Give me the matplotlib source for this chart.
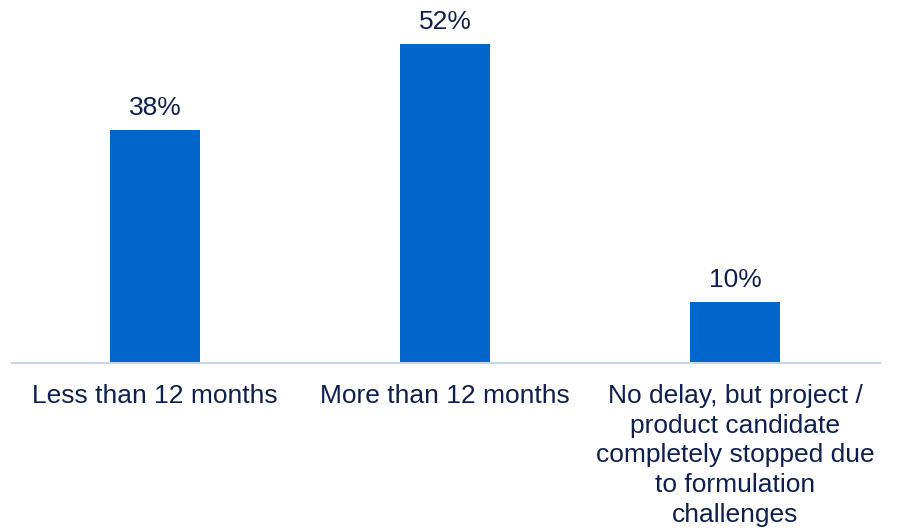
import matplotlib
matplotlib.use("Agg")
import matplotlib.pyplot as plt

categories = [
    "Less than 12 months",
    "More than 12 months",
    "No delay, but project /\nproduct candidate\ncompletely stopped due\nto formulation\nchallenges",
]
shares = [38, 52, 10]
value_labels = ["38%", "52%", "10%"]

bar_color = "#0066CC"
text_color = "#0F1F4F"
axis_color = "#C5D5F0"

plt.rcParams["font.family"] = ["Liberation Sans", "DejaVu Sans"]

W, H = 897, 532
fig = plt.figure(figsize=(W / 100, H / 100), dpi=100)
# axes box in pixel terms: baseline at y=363 from top, top at y=10
left, right, top, base = 12, 880, 10, 363
ax = fig.add_axes([left / W, (H - base) / H, (right - left) / W, (base - top) / H])

x = range(len(categories))
bars = ax.bar(x, shares, width=0.31, color=bar_color, zorder=2)

ax.set_xlim(-0.4927, 2.498)
ax.set_ylim(0, 57.5)

for rect, lab in zip(bars, value_labels):
    ax.annotate(lab, (rect.get_x() + rect.get_width() / 2, rect.get_height()),
                xytext=(0, 7), textcoords="offset points",
                ha="center", va="bottom", fontsize=19, color=text_color)

for side in ["top", "right", "left"]:
    ax.spines[side].set_visible(False)
ax.spines["bottom"].set_color(axis_color)
ax.spines["bottom"].set_linewidth(1.5)
ax.set_yticks([])
ax.set_xticks(list(x))
ax.set_xticklabels(categories, fontsize=19, color=text_color, linespacing=1.3)
ax.tick_params(axis="x", length=0, pad=15)

fig.savefig("out.png", dpi=100)
